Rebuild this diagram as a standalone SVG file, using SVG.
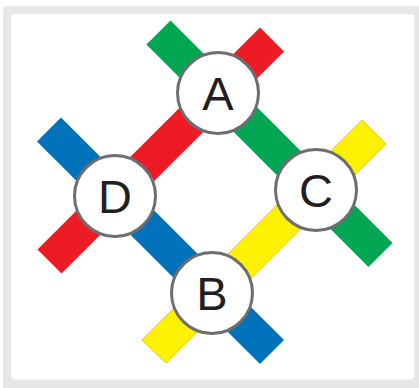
<svg xmlns="http://www.w3.org/2000/svg" width="419" height="388" viewBox="0 0 419 388">
<style>
.bar{fill:none;stroke-width:34;stroke-linecap:butt}
.node circle{fill:#ffffff;stroke:#6d6e71;stroke-width:3}
.node text{font-family:"Liberation Sans",Arial,sans-serif;font-size:47px;fill:#231f20;text-anchor:middle}
</style>
<rect x="3" y="6" width="420" height="386" rx="5" fill="#e6e7e8"/>
<rect x="11" y="14" width="403" height="365.5" rx="4" fill="#ffffff"/>
<g id="connectors">
<line class="bar" x1="158.5" y1="32.5" x2="380.5" y2="255" stroke="#00a651"/>
<line class="bar" x1="272" y1="39.5" x2="49.5" y2="261.5" stroke="#ed1c24"/>
<line class="bar" x1="49" y1="129.5" x2="272" y2="352" stroke="#0072bc"/>
<polygon points="362,120 386,144 166,363 142,340" fill="#fff200" stroke="#f7c600" stroke-width="1"/>
</g>
<g id="A" class="node"><circle cx="218" cy="93" r="40.5"/><text x="218" y="110">A</text></g>
<g id="C" class="node"><circle cx="316" cy="190" r="40.5"/><text x="316" y="207">C</text></g>
<g id="D" class="node"><circle cx="115" cy="196" r="40.5"/><text x="115" y="213">D</text></g>
<g id="B" class="node"><circle cx="212" cy="293" r="40.5"/><text x="212" y="310">B</text></g>
</svg>
